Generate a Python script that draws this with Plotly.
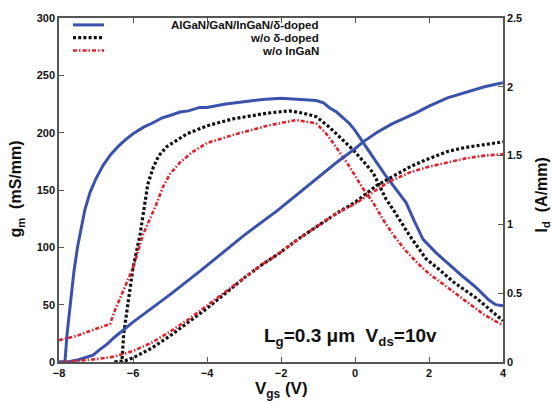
import plotly.graph_objects as go

# ---------------- data ----------------
# transconductance gm (mS/mm), left axis
vgs_gm_full = [-8.0, -7.84, -7.78, -7.7, -7.6, -7.5, -7.4, -7.3, -7.16, -7.0, -6.8, -6.6, -6.4, -6.2,
               -6.0, -5.7, -5.5, -5.2, -5.0, -4.73, -4.5, -4.2, -4.0, -3.5, -3.0, -2.5, -2.0, -1.5,
               -1.05, -0.85, -0.7, -0.5, -0.32, -0.15, 0.0, 0.22, 0.5, 0.84, 1.1, 1.38, 1.6, 1.84,
               2.2, 2.54, 2.9, 3.27, 3.62, 3.8, 4.0]
gm_full = [0, 0, 25, 50, 78, 100, 118, 133, 148, 160, 172, 181, 188, 194,
           199, 205, 208, 213, 215, 218, 219, 222, 222, 225, 227, 229, 230, 229,
           228, 226, 222, 218, 213, 208, 202, 191, 178, 162, 151, 139, 123, 107,
           95, 85, 75, 65, 54, 50, 49]

vgs_gm_nodelta = [-6.5, -6.3, -6.25, -6.13, -6.0, -5.81, -5.68, -5.6, -5.45, -5.3, -5.08, -4.8, -4.54,
                  -4.0, -3.3, -2.38, -1.78, -1.4, -1.05, -0.7, -0.43, -0.05, 0.2, 0.49, 0.84, 1.03,
                  1.46, 1.92, 2.3, 2.65, 3.0, 3.27, 3.6, 4.0]
gm_nodelta = [0, 0, 25, 53, 82, 111, 140, 155, 170, 180, 188, 194, 199,
              206, 212, 217, 219, 217, 214, 205, 197, 185, 176, 165, 142, 133,
              111, 90, 80, 70, 62, 56, 47, 36]

vgs_gm_noingan = [-8.0, -7.5, -7.0, -6.62, -6.49, -6.27, -6.0, -5.73, -5.5, -5.35, -5.2, -5.0, -4.73,
                  -4.4, -4.0, -3.3, -2.38, -1.59, -1.2, -1.05, -0.8, -0.59, -0.16, 0.2, 0.49, 0.8,
                  1.1, 1.4, 1.73, 2.0, 2.38, 2.7, 3.08, 3.5, 4.0]
gm_noingan = [19, 23, 29, 33, 45, 62, 82, 111, 128, 139, 152, 164, 174,
              183, 191, 198, 206, 211, 209, 208, 200, 191, 171, 152, 139, 122,
              108, 96, 85, 77, 68, 60, 51, 41, 32]

# drain current Id (A/mm), right axis
vgs_id_full = [-8.0, -7.78, -7.5, -7.3, -7.08, -6.9, -6.7, -6.5, -6.27, -6.0, -5.5, -5.0, -4.19, -3.5,
               -3.0, -2.1, -1.5, -1.0, -0.5, 0.0, 0.22, 0.6, 1.0, 1.65, 2.0, 2.5, 3.0, 3.5, 4.0]
id_full = [0, 0, 0.015, 0.03, 0.05, 0.09, 0.13, 0.18, 0.23, 0.29, 0.39, 0.49, 0.66, 0.81,
           0.92, 1.10, 1.23, 1.34, 1.45, 1.55, 1.60, 1.67, 1.73, 1.81, 1.86, 1.92, 1.96, 2.00, 2.03]

vgs_id_nodelta = [-6.5, -6.2, -6.0, -5.5, -5.0, -4.5, -4.0, -3.5, -3.0, -2.5, -2.1, -1.5, -1.0, -0.5,
                  0.0, 0.3, 0.57, 1.03, 1.5, 1.92, 2.5, 3.0, 3.5, 4.0]
id_nodelta = [0, 0.01, 0.03, 0.10, 0.19, 0.29, 0.39, 0.50, 0.61, 0.71, 0.78, 0.90, 0.99, 1.08,
              1.16, 1.22, 1.28, 1.35, 1.42, 1.47, 1.53, 1.56, 1.58, 1.60]

vgs_id_noingan = [-7.9, -7.0, -6.5, -6.0, -5.5, -5.0, -4.5, -4.0, -3.5, -3.0, -2.5, -2.1, -1.5,
                  -1.0, -0.5, 0.0, 0.5, 0.92, 1.5, 2.0, 2.5, 3.0, 3.5, 4.0]
id_noingan = [0, 0.02, 0.04, 0.08, 0.14, 0.22, 0.31, 0.41, 0.51, 0.61, 0.71, 0.78, 0.90,
              0.99, 1.08, 1.15, 1.24, 1.31, 1.38, 1.42, 1.45, 1.48, 1.50, 1.51]

legend_labels = ["AlGaN/GaN/InGaN/δ-doped", "w/o δ-doped", "w/o InGaN"]
x_ticks = [-8, -6, -4, -2, 0, 2, 4]
y_ticks = [0, 50, 100, 150, 200, 250, 300]
y2_ticks = [0, 0.5, 1, 1.5, 2, 2.5]

# ---------------- styles ----------------
BLUE = "#3b52ad"
BLACK = "#111111"
RED = "#e3202c"
FONT = "Liberation Sans"
styles = [
    dict(color=BLUE, width=3, dash="solid"),
    dict(color=BLACK, width=3.2, dash="3px,2.2px"),
    dict(color=RED, width=2.6, dash="4px,2px,1.5px,2px"),
]

fig = go.Figure()
gm_sets = [(vgs_gm_full, gm_full), (vgs_gm_nodelta, gm_nodelta), (vgs_gm_noingan, gm_noingan)]
id_sets = [(vgs_id_full, id_full), (vgs_id_nodelta, id_nodelta), (vgs_id_noingan, id_noingan)]
for (xs, ys), st, name in zip(gm_sets, styles, legend_labels):
    fig.add_trace(go.Scatter(x=xs, y=ys, mode="lines", line=st, name=name, showlegend=False))
for (xs, ys), st, name in zip(id_sets, styles, legend_labels):
    fig.add_trace(go.Scatter(x=xs, y=ys, mode="lines", line=st, name=name, showlegend=False,
                             yaxis="y2"))

# plot area geometry
L, R, T, B = 59, 49, 13, 43
W, H = 552, 405
pw, ph = W - L - R, H - T - B


def px(xp):
    return (xp - L) / pw


def py(yp):
    return (H - B - yp) / ph


# manual legend (line samples + right-aligned labels)
shapes = []
annotations = []
rows_y = [20, 33, 46]
for st, lab, yy in zip(styles, legend_labels, rows_y):
    shapes.append(dict(type="line", xref="paper", yref="paper", x0=px(73), x1=px(104),
                       y0=py(yy), y1=py(yy), line=st))
    annotations.append(dict(text=lab, xref="paper", yref="paper", x=px(320), y=py(yy),
                            xanchor="right", yanchor="middle", showarrow=False, borderpad=0,
                            font=dict(family=FONT, size=11.5, color="#111", weight="bold")))

annotations.append(dict(text="L<sub>g</sub>=0.3 μm  V<sub>ds</sub>=10v", xref="paper", yref="paper",
                        x=px(262), y=py(337), xanchor="left", yanchor="middle", showarrow=False,
                        font=dict(family=FONT, size=19, color="#111", weight="bold")))
annotations.append(dict(text="V<sub>gs</sub> (V)", xref="paper", yref="paper",
                        x=px(281), y=py(390), xanchor="center", yanchor="middle", showarrow=False,
                        font=dict(family=FONT, size=17, color="#111", weight="bold")))
annotations.append(dict(text="g<sub>m</sub>  (mS/mm)", xref="paper", yref="paper", textangle=-90,
                        x=px(17), y=py(187), xanchor="center", yanchor="middle", showarrow=False,
                        font=dict(family=FONT, size=16, color="#111", weight="bold")))
annotations.append(dict(text="I<sub>d</sub>  (A/mm)", xref="paper", yref="paper", textangle=-90,
                        x=px(542), y=py(193), xanchor="center", yanchor="middle", showarrow=False,
                        font=dict(family=FONT, size=16, color="#111", weight="bold")))

tickfont = dict(family=FONT, size=11, color="#111", weight="bold")
axis_common = dict(showgrid=False, zeroline=False, showline=True, linecolor="#555", linewidth=1.5,
                   ticks="inside", ticklen=5, tickcolor="#555", tickwidth=1, tickfont=tickfont)

fig.update_layout(
    width=W, height=H,
    margin=dict(l=L, r=R, t=T, b=B),
    paper_bgcolor="white", plot_bgcolor="white",
    showlegend=False,
    xaxis=dict(range=[-8, 4], tickvals=x_ticks, mirror="ticks", **axis_common),
    yaxis=dict(range=[0, 300], tickvals=y_ticks, **axis_common),
    yaxis2=dict(range=[0, 2.5], tickvals=y2_ticks, overlaying="y", side="right", **axis_common),
    shapes=shapes,
    annotations=annotations,
)

fig.write_html("out.html")
